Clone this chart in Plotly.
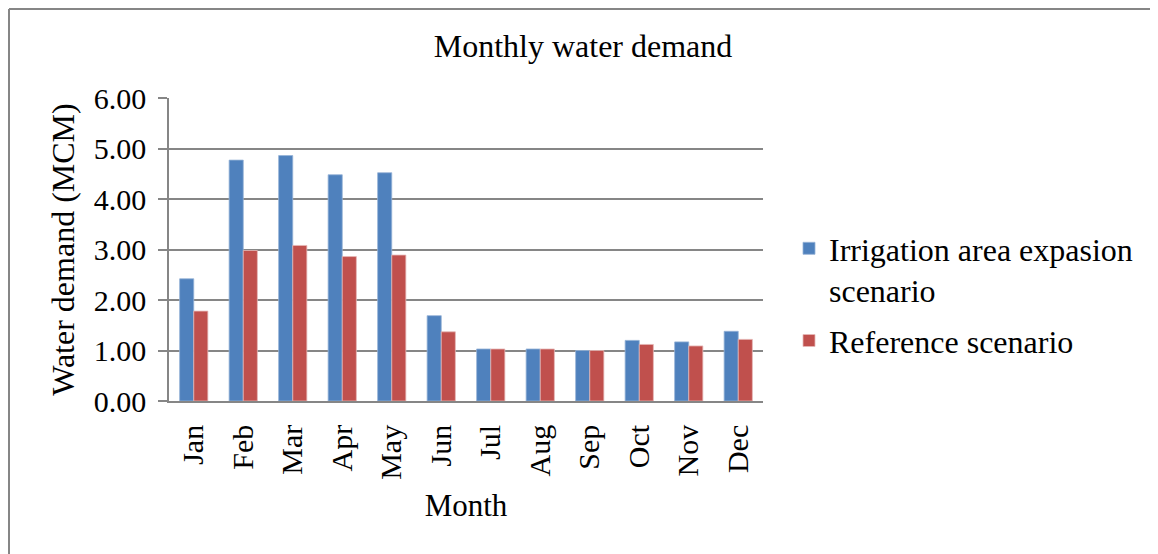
import plotly.graph_objects as go

months = ["Jan", "Feb", "Mar", "Apr", "May", "Jun", "Jul", "Aug", "Sep", "Oct", "Nov", "Dec"]
irrigation = [2.42, 4.77, 4.86, 4.48, 4.52, 1.69, 1.03, 1.03, 1.00, 1.20, 1.17, 1.38]
reference = [1.78, 2.98, 3.08, 2.86, 2.89, 1.37, 1.03, 1.03, 1.00, 1.12, 1.09, 1.22]
y_ticks = [0, 1, 2, 3, 4, 5, 6]

# page is 1158x554, the plot div sits 8px in from the body margin
OFF = 8
W, H = 1158 - OFF, 554 - OFF
# plot area, page pixels
L, R, T, B = 169, 763, 98, 401

def px(x):
    return (x - L) / (R - L)

def py(y):
    return (B - y) / (B - T)

FONT = "Liberation Serif"
GRID = "#868686"

fig = go.Figure()
fig.add_trace(go.Bar(x=months, y=irrigation, name="Irrigation area expasion<br>scenario",
                     legendgroup="a",
                     marker=dict(color="#4F81BD", line=dict(color="#95B3D7", width=0.8))))
fig.add_trace(go.Bar(x=months, y=reference, name="Reference scenario",
                     legendgroup="b",
                     marker=dict(color="#C0504D", line=dict(color="#E6B9B8", width=0.8))))

fig.update_layout(
    width=W, height=H,
    margin=dict(l=L - OFF, r=W - (R - OFF), t=T - OFF, b=H - (B - OFF)),
    paper_bgcolor="white", plot_bgcolor="white",
    font=dict(family=FONT, color="black", size=30),
    barmode="group", bargap=0.43, bargroupgap=0,
    title=dict(text="Monthly water demand", font=dict(size=32),
               x=(583 - OFF) / W, xanchor="center", xref="container",
               y=1 - (46 - OFF) / H, yanchor="middle", yref="container"),
    legend=dict(x=px(789), y=py(221), xanchor="left", yanchor="top",
                font=dict(size=32), valign="top", traceorder="grouped",
                tracegroupgap=6, itemwidth=30, bgcolor="rgba(0,0,0,0)"),
    showlegend=True,
)

fig.update_yaxes(range=[0, 6], tickvals=y_ticks, tickformat=".2f",
                 showgrid=True, gridcolor=GRID, gridwidth=1.6,
                 showline=True, linecolor=GRID, linewidth=1.6,
                 ticks="outside", ticklen=9, tickcolor=GRID, tickwidth=1.6,
                 ticklabelstandoff=6, tickfont=dict(size=30),
                 title=dict(text="Water demand (MCM)", font=dict(size=32), standoff=10),
                 zeroline=False)
fig.update_xaxes(showline=True, linecolor=GRID, linewidth=1.6, ticks="",
                 tickangle=-90, tickfont=dict(size=30), ticklabelstandoff=10,
                 title=dict(text="Month", font=dict(size=31), standoff=16))

# outer chart border (top and left edges visible)
fig.add_shape(type="line", xref="paper", yref="paper",
              x0=px(9), x1=px(1165), y0=py(9), y1=py(9),
              line=dict(color=GRID, width=2))
fig.add_shape(type="line", xref="paper", yref="paper",
              x0=px(9), x1=px(9), y0=py(9), y1=py(560),
              line=dict(color=GRID, width=2))

fig.write_html("out.html")
